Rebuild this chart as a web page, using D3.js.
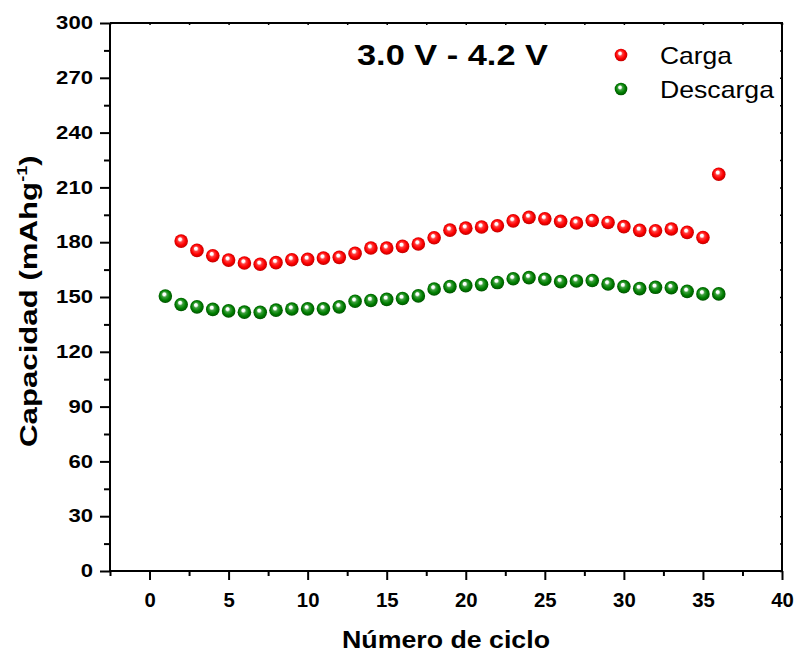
<!DOCTYPE html>
<html><head><meta charset="utf-8">
<script src="https://cdn.jsdelivr.net/npm/d3@7"></script>
<style>
body{margin:0;background:#fff;}
svg{display:block;font-family:Arial,"Liberation Sans",sans-serif;}
</style></head>
<body><svg id="c" width="796" height="653"></svg>
<script>
const chargeCycles = d3.range(2, 37);
const chargeValues = [180.6,175.5,172.6,170.2,168.6,167.9,168.8,170.4,170.6,171.3,171.7,173.9,176.8,176.8,177.7,179.0,182.4,186.6,187.7,188.3,189.0,191.7,193.6,192.8,191.4,190.5,191.9,190.8,188.5,186.5,186.3,187.2,185.4,182.6,217.2];
const dischargeCycles = d3.range(1, 37);
const dischargeValues = [150.5,145.9,144.6,143.2,142.4,141.7,141.6,142.8,143.4,143.5,143.5,144.6,147.7,148.1,148.7,149.2,150.6,154.4,155.7,156.2,156.8,157.9,160.0,160.6,159.7,158.4,158.8,159.0,157.1,155.7,154.6,155.3,155.1,153.1,151.7,151.7];
const xTicks = [0,5,10,15,20,25,30,35,40];
const yTicks = [0,30,60,90,120,150,180,210,240,270,300];
const seriesNames = ["Carga","Descarga"];
const seriesColors = [["#ff4040","#ff0000","#b00000"],["#40a040","#008000","#004800"]];

const svg = d3.select("#c");
const L=110, R=782, T=23, B=571;
const x = d3.scaleLinear().domain([-2.5,40]).range([L,R]);
const y = d3.scaleLinear().domain([0,300]).range([B,T]);

const defs = svg.append("defs");
seriesColors.forEach((c,i)=>{
  const g = defs.append("radialGradient").attr("id","g"+i)
    .attr("cx","50%").attr("cy","50%").attr("r","55%").attr("fx","40%").attr("fy","33%");
  g.append("stop").attr("offset","0%").attr("stop-color","#ffffff");
  g.append("stop").attr("offset","18%").attr("stop-color","#ffffff").attr("stop-opacity",0.9);
  g.append("stop").attr("offset","35%").attr("stop-color",c[0]);
  g.append("stop").attr("offset","65%").attr("stop-color",c[1]);
  g.append("stop").attr("offset","100%").attr("stop-color",c[2]);
});

svg.append("path").attr("d",`M${L},${T}H${R}V${B}`).attr("fill","none").attr("stroke","#000").attr("stroke-width",2);

const topAx = svg.append("g").attr("transform",`translate(0,${T})`)
  .call(d3.axisBottom(x).tickValues(d3.range(-2.5,40.1,2.5)).tickSize(2).tickFormat(""));
topAx.select(".domain").remove();
topAx.selectAll("line").attr("stroke-width",1.5);
const rightAx = svg.append("g").attr("transform",`translate(${R},0)`)
  .call(d3.axisLeft(y).tickValues(d3.range(0,301,15)).tickSize(2).tickFormat(""));
rightAx.select(".domain").remove();
rightAx.selectAll("line").attr("stroke-width",1.5);

const xMinor = svg.append("g").attr("transform",`translate(0,${B})`)
  .call(d3.axisBottom(x).tickValues(d3.range(-2.5,40.1,5)).tickSize(5).tickFormat(""));
xMinor.select(".domain").remove();
xMinor.selectAll("line").attr("stroke-width",2);
const xAx = svg.append("g").attr("transform",`translate(0,${B})`)
  .call(d3.axisBottom(x).tickValues(xTicks).tickSize(9).tickSizeOuter(0).tickPadding(12).tickFormat(d3.format("d")));
xAx.select(".domain").attr("d",`M${L},0H${R}`).attr("stroke-width",2);
xAx.selectAll("line").attr("stroke-width",2);
xAx.selectAll("text").attr("font-size",21).attr("font-weight","bold").attr("fill","#000")
  .attr("font-family","Arial, 'Liberation Sans', sans-serif")
  .attr("textLength",d=>String(d).length*11.3).attr("lengthAdjust","spacingAndGlyphs");

const yMinor = svg.append("g").attr("transform",`translate(${L},0)`)
  .call(d3.axisLeft(y).tickValues(d3.range(15,300,30)).tickSize(6).tickFormat(""));
yMinor.select(".domain").remove();
yMinor.selectAll("line").attr("stroke-width",2);
const yAx = svg.append("g").attr("transform",`translate(${L},0)`)
  .call(d3.axisLeft(y).tickValues(yTicks).tickSize(10).tickSizeOuter(0).tickPadding(7));
yAx.select(".domain").attr("d",`M0,${B}V${T}`).attr("stroke-width",2);
yAx.selectAll("line").attr("stroke-width",2);
yAx.selectAll("text").attr("font-size",18).attr("font-weight","bold").attr("fill","#000")
  .attr("font-family","Arial, 'Liberation Sans', sans-serif")
  .attr("textLength",d=>String(d).length*12.3).attr("lengthAdjust","spacingAndGlyphs");

const series = [[chargeCycles,chargeValues],[dischargeCycles,dischargeValues]];
series.forEach((s,i)=>{
  svg.append("g").selectAll("circle").data(s[0].map((c,j)=>[c,s[1][j]])).join("circle")
    .attr("cx",d=>x(d[0])).attr("cy",d=>y(d[1])).attr("r",6.8).attr("fill",`url(#g${i})`);
});

seriesNames.forEach((n,i)=>{
  const ly = 55 + i*34;
  svg.append("circle").attr("cx",621).attr("cy",ly).attr("r",6.3).attr("fill",`url(#g${i})`);
  svg.append("text").attr("x",660).attr("y",ly+9).attr("font-size",24).attr("fill","#000")
    .attr("textLength",i===0?72:114).attr("lengthAdjust","spacingAndGlyphs").text(n);
});

svg.append("text").attr("x",357).attr("y",65).attr("font-size",30).attr("font-weight","bold")
  .attr("textLength",191).attr("lengthAdjust","spacingAndGlyphs").text("3.0 V - 4.2 V");

svg.append("text").attr("x",342).attr("y",648).attr("font-size",24).attr("font-weight","bold")
  .attr("textLength",208).attr("lengthAdjust","spacingAndGlyphs").text("Número de ciclo");

const yl = svg.append("text").attr("transform","translate(37,447) rotate(-90) scale(1.3,1)")
  .attr("font-size",24).attr("font-weight","bold");
yl.append("tspan").text("Capacidad (mAhg");
yl.append("tspan").attr("font-size",14).attr("dy",-10).text("-1");
yl.append("tspan").attr("dy",10).text(")");
</script></body></html>
